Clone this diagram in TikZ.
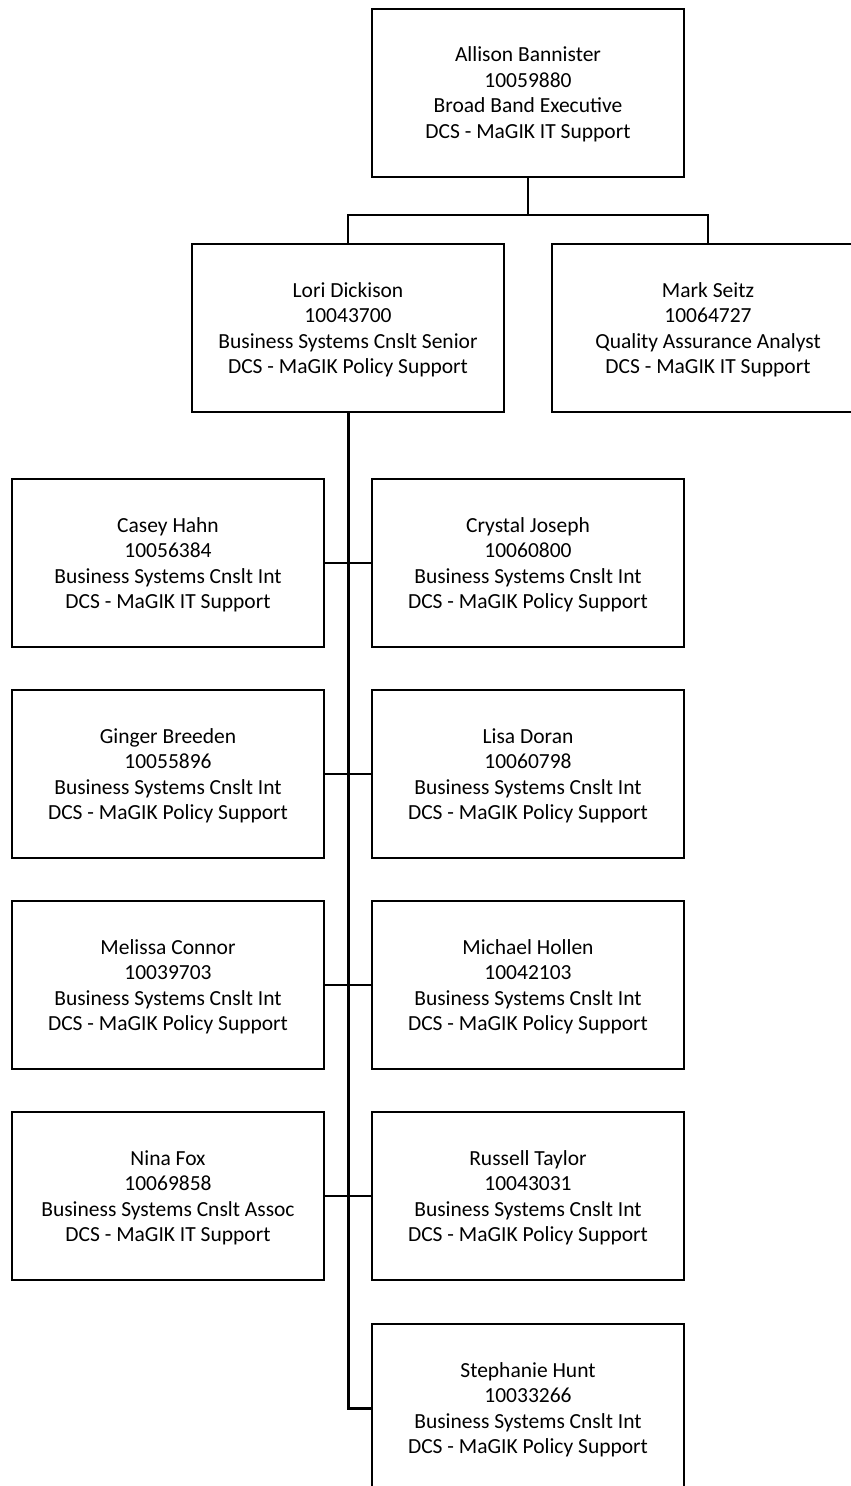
\documentclass[tikz,border=0pt]{standalone}
\usepackage{fontspec}
\setmainfont{Carlito}
\begin{document}
\begin{tikzpicture}[x=1pt,y=-1pt,
  person/.style={draw, line width=2pt, minimum width=312pt, minimum height=168pt,
    inner sep=0pt, align=center, font=\fontsize{21.5}{25.5}\selectfont, anchor=center,
    text depth=0pt},
  link/.style={line width=2.4pt},
  trunk/.style={line width=3pt}]
\useasboundingbox (0,0) rectangle (851,1486);
\clip (0,0) rectangle (851,1486);
\node[person] (top) at (528,92.5) {Allison Bannister\\10059880\\Broad Band Executive\\DCS - MaGIK IT Support};
\node[person] (lori) at (348,328) {Lori Dickison\\10043700\\Business Systems Cnslt Senior\\DCS - MaGIK Policy Support};
\node[person] (mark) at (708,328) {Mark Seitz\\10064727\\Quality Assurance Analyst\\DCS - MaGIK IT Support};
\node[person] (casey) at (168,563) {Casey Hahn\\10056384\\Business Systems Cnslt Int\\DCS - MaGIK IT Support};
\node[person] (crystal) at (528,563) {Crystal Joseph\\10060800\\Business Systems Cnslt Int\\DCS - MaGIK Policy Support};
\node[person] (ginger) at (168,774) {Ginger Breeden\\10055896\\Business Systems Cnslt Int\\DCS - MaGIK Policy Support};
\node[person] (lisa) at (528,774) {Lisa Doran\\10060798\\Business Systems Cnslt Int\\DCS - MaGIK Policy Support};
\node[person] (melissa) at (168,985) {Melissa Connor\\10039703\\Business Systems Cnslt Int\\DCS - MaGIK Policy Support};
\node[person] (michael) at (528,985) {Michael Hollen\\10042103\\Business Systems Cnslt Int\\DCS - MaGIK Policy Support};
\node[person] (nina) at (168,1196) {Nina Fox\\10069858\\Business Systems Cnslt Assoc\\DCS - MaGIK IT Support};
\node[person] (russell) at (528,1196) {Russell Taylor\\10043031\\Business Systems Cnslt Int\\DCS - MaGIK Policy Support};
\node[person] (stephanie) at (528,1408) {Stephanie Hunt\\10033266\\Business Systems Cnslt Int\\DCS - MaGIK Policy Support};
\coordinate (j1) at (528,215);
\draw[link] (top.south) -- (j1);
\draw[link] (j1) -| (lori.north);
\draw[link] (j1) -| (mark.north);
\draw[trunk] (lori.south) |- (stephanie.west);
\draw[link] (casey.east) -- (crystal.west);
\draw[link] (ginger.east) -- (lisa.west);
\draw[link] (melissa.east) -- (michael.west);
\draw[link] (nina.east) -- (russell.west);
\end{tikzpicture}
\end{document}
